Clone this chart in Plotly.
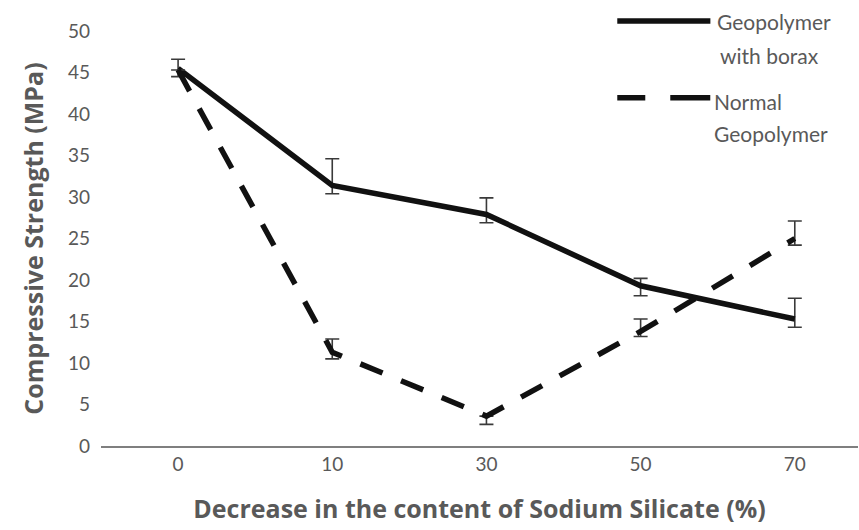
import plotly.graph_objects as go

# Sodium silicate reduction levels (categorical x axis)
categories = ["0", "10", "30", "50", "70"]

# Compressive strength (MPa) with asymmetric error bars
borax_strength = [45.5, 31.4, 27.9, 19.3, 15.3]
borax_err_plus = [1.1, 3.2, 2.0, 0.9, 2.5]
borax_err_minus = [1.0, 1.0, 1.0, 1.2, 1.0]

normal_strength = [45.3, 11.3, 3.6, 13.8, 25.0]
normal_err_plus = [0.0, 1.6, 0.0, 1.5, 2.1]
normal_err_minus = [0.0, 0.8, 1.0, 0.6, 0.8]

y_ticks = [0, 5, 10, 15, 20, 25, 30, 35, 40, 45, 50]

text_grey = "#595959"
font_family = "Lato, 'Open Sans', sans-serif"
title_family = "'Open Sans', Lato, sans-serif"

fig = go.Figure()

fig.add_trace(go.Scatter(
    x=categories, y=borax_strength, mode="lines",
    name="Geopolymer with borax",
    line=dict(color="#111111", width=5.5),
    error_y=dict(type="data", symmetric=False, array=borax_err_plus,
                 arrayminus=borax_err_minus, color="#3a3a3a",
                 thickness=1.6, width=7),
    showlegend=False,
))

fig.add_trace(go.Scatter(
    x=categories, y=normal_strength, mode="lines",
    name="Normal Geopolymer",
    line=dict(color="#111111", width=5.5, dash="24px,20px"),
    error_y=dict(type="data", symmetric=False, array=normal_err_plus,
                 arrayminus=normal_err_minus, color="#3a3a3a",
                 thickness=1.6, width=7),
    showlegend=False,
))

# Hand-built legend at the top right: line sample plus two text lines
legend_items = [
    ("solid", 1.024, [("Geopolymer", 0.811, 1.022), ("with borax", 0.815, 0.942)]),
    ("28px,25px,40px", 0.839, [("Normal", 0.807, 0.831), ("Geopolymer", 0.807, 0.752)]),
]
for dash, y_line, lines in legend_items:
    fig.add_shape(type="line", xref="paper", yref="paper",
                  x0=0.682, x1=0.805, y0=y_line, y1=y_line,
                  line=dict(color="#111111", width=5.5, dash=dash))
    for text, x_text, y_text in lines:
        fig.add_annotation(xref="paper", yref="paper", x=x_text, y=y_text,
                           text=text, showarrow=False, xanchor="left",
                           yanchor="middle", align="left",
                           font=dict(family=font_family, size=21, color=text_grey))

fig.update_layout(
    width=859, height=530,
    margin=dict(l=101, r=1, t=31, b=84),
    paper_bgcolor="white", plot_bgcolor="white",
    font=dict(family=font_family, color=text_grey, size=19),
    xaxis=dict(
        type="category", range=[-0.5, 4.41],
        showline=True, linecolor="#7f7f7f", linewidth=2,
        showgrid=False, ticks="", zeroline=False,
        tickfont=dict(size=19, color=text_grey),
        title=dict(text="<b>Decrease in the content of Sodium Silicate (%)</b>",
                   font=dict(family=title_family, size=25, color=text_grey),
                   standoff=27),
    ),
    yaxis=dict(
        range=[0, 50], tickvals=y_ticks,
        showline=False, showgrid=False, zeroline=False, ticks="",
        tickfont=dict(size=19, color=text_grey),
        ticklabelstandoff=10,
        title=dict(text="<b>Compressive Strength (MPa)</b>",
                   font=dict(family=title_family, size=25, color=text_grey),
                   standoff=17),
    ),
)

fig.write_html("out.html")
